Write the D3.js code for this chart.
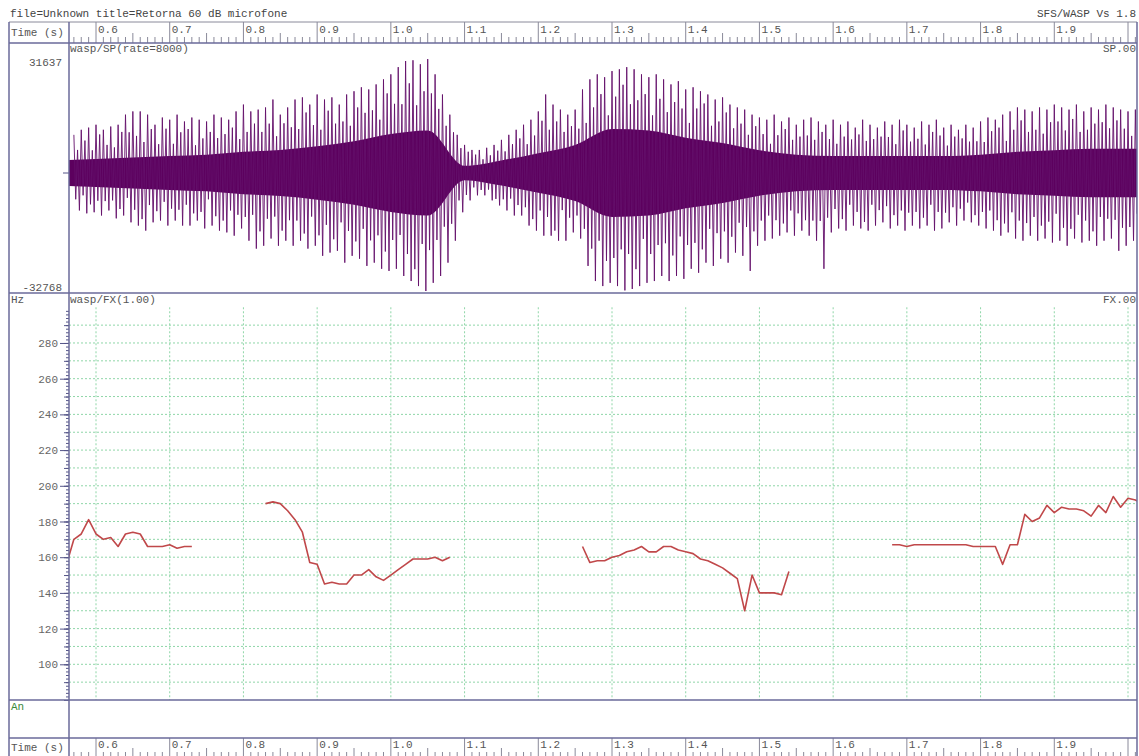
<!DOCTYPE html>
<html>
<head>
<meta charset="utf-8">
<script src="https://cdn.jsdelivr.net/npm/d3@7"></script>
<style>
body { margin: 0; background: #fff; }
svg { display: block; }
text { font-family: "Liberation Mono", "Courier New", monospace; font-size: 11px; fill: #555; }
</style>
</head>
<body>
<svg id="SVG_CONTAINER" width="1139" height="756"></svg>
<script>
// header texts
const headerLeft = "file=Unknown title=Retorna 60 dB microfone";
const headerRight = "SFS/WASP Vs 1.8";
const spTitle = "wasp/SP(rate=8000)", spTag = "SP.00";
const fxTitle = "wasp/FX(1.00)", fxTag = "FX.00";
const spLabels = [31637, -32768];
const fxLabels = [100, 120, 140, 160, 180, 200, 220, 240, 260, 280];

// waveform peaks, one set per 10 ms frame from 0.57 s
const spStart = 0.57, spStep = 0.01;
const spMax = [
  10600,12000,12600,13400,12000,12900,13400,16200,17100,17100,
  16200,13400,15400,14800,16200,14300,15400,14800,14300,16200,
  15400,14800,17100,19000,17100,17600,18200,20400,16200,18200,
  20400,21000,19000,21800,20400,21000,19000,21800,22700,23800,
  23200,24600,26000,27400,29400,31100,31300,30200,31637,27400,
  21800,16200,10600,7800,6400,6400,7000,7800,9200,10600,
  12000,13400,14800,17100,21800,19000,17600,16200,17600,23200,
  26000,27400,26600,28300,28800,29400,28800,27400,26600,27400,
  26000,24600,25500,23200,23800,22700,21800,20400,21000,19000,
  18200,17600,16200,15400,14800,16200,14300,15400,13400,14800,
  15400,14300,13400,14800,13400,14300,12600,14800,13400,12600,
  14300,13400,14800,13400,12600,14300,13400,14800,12600,13400,
  12000,13400,12600,14300,15400,14800,16200,17100,18200,17600,
  17100,18200,17600,19000,18200,17600,19000,17100,18200,17600,
  19000,18200,17600,17100,17600
];
// secondary (smaller) positive peak inside each frame
const spMax2 = [
  6400,9000,6300,10700,7800,7100,11400,11300,10300,8600,
  12200,8000,12300,8100,11300,12200,7700,9600,11400,9700,
  10800,12600,9400,11400,13700,11400,13700,10200,13800,12700,
  12200,16800,13300,12000,17300,13700,14300,13100,18200,16700,
  17400,14800,22100,19200,19100,24900,18800,22700,22100,17800,
  13100,11300,6900,5900,5100,3800,4900,6200,6000,8000,
  9600,8000,10400,14500,12000,14300,11400,13000,12300,13900,
  18200,21900,16000,21200,24500,19100,20200,21900,16000,20600,
  16900,19700,17900,13900,17900,19300,13100,14300,16800,12400,
  13700,10600,13000,10800,8100,10500,12200,9200,10100,10400,
  9200,11400,9400,8100,10100,9300,10700,8900,9400,10100,
  10000,8000,11800,8700,9500,7900,11400,10400,7600,10100,
  9600,8700,8800,8600,11600,12600,8900,12000,14600,11400,
  12000,10900,14100,14300,11800,15000,11400,12000,13700,14100,
  12400,14600,12300,10300,13200
];
const spMin = [
  -10400,-11200,-10900,-11800,-10400,-12600,-11800,-13700,-14600,-16000,
  -13700,-13200,-14600,-13200,-14600,-14600,-13200,-15400,-14600,-16000,
  -16500,-17400,-15400,-18800,-21000,-20200,-18200,-20200,-18800,-20200,
  -18800,-21000,-20200,-23000,-22100,-21600,-24900,-23000,-23800,-25800,
  -24900,-26600,-27200,-26600,-28600,-30000,-31400,-32768,-30500,-28600,
  -24900,-18800,-10900,-7600,-6200,-6200,-7600,-9000,-10400,-11800,
  -11800,-14600,-16000,-17400,-17400,-18800,-18800,-16500,-18200,-25800,
  -30000,-31400,-30500,-31400,-32600,-32200,-31400,-30500,-30000,-28600,
  -30000,-28600,-29400,-26600,-27700,-24900,-25800,-23800,-24900,-22100,
  -23000,-27200,-20200,-18800,-18200,-17400,-16500,-17400,-16000,-17400,
  -18800,-26600,-16500,-15400,-16000,-14600,-15400,-16000,-14600,-13700,
  -15400,-14600,-16000,-14600,-15400,-14600,-16000,-15400,-13700,-14600,
  -13200,-13700,-14600,-15400,-16000,-17400,-16500,-18200,-18800,-17400,
  -18800,-18200,-19300,-18800,-20200,-18200,-19300,-18800,-20200,-18800,
  -18200,-21600,-20200,-18800,-17400
];
// secondary negative peak inside each frame
const spMin2 = [
  -7300,-6200,-8700,-7700,-7800,-7600,-10000,-6900,-10200,-12800,
  -8900,-10600,-8000,-9900,-10200,-8800,-11200,-10800,-7300,-12000,
  -13200,-10400,-11600,-12200,-11600,-16200,-12700,-12100,-16000,-13100,
  -13200,-16800,-12100,-17300,-14400,-18400,-13700,-16100,-19000,-15500,
  -18700,-17300,-21800,-18600,-17200,-22500,-26700,-19700,-21400,-18600,
  -14900,-14100,-7600,-6100,-4000,-4700,-4600,-7200,-7300,-7100,
  -8900,-9500,-12800,-10400,-12200,-16000,-10300,-12400,-11800,-15500,
  -21000,-18800,-24400,-23600,-21200,-22500,-26700,-18300,-22500,-20000,
  -19500,-22900,-17600,-20000,-19400,-21200,-15500,-16700,-16200,-17700,
  -13800,-15000,-16200,-13200,-11800,-13100,-14000,-10400,-11200,-13100,
  -13200,-13300,-12400,-10000,-12800,-8800,-10800,-13600,-8800,-10300,
  -9200,-11700,-10400,-11000,-10800,-12400,-8800,-10800,-11000,-9500,
  -9900,-8200,-11700,-10800,-10400,-13100,-14000,-10900,-13200,-13900,
  -12200,-14600,-13500,-11300,-15200,-15500,-11600,-13200,-16200,-12200,
  -12700,-13000,-15200,-15000,-11300
];
// dense core of the waveform, every 50 ms from 0.55 s
const coreStart = 0.55, coreStep = 0.05;
const coreAmp = [3500,3900,4300,4700,5100,5900,6400,7400,8800,10800,11800,2000,3500,5500,7800,
  12200,11800,9800,8300,6300,5100,4700,4700,4700,4700,5100,5900,6300,6700,6700,6700];

// pitch track (Hz), 10 ms frames, four voiced segments
const fxStep = 0.01;
const fxSegStarts = [0.56, 0.83, 1.26, 1.68];
const fxSeg1 = [156,170,173,181,173,170,171,166,173,174,173,166,166,166,167,165,166,166];
const fxSeg2 = [190,191,190,186,181,174,157,156,145,146,145,145,150,150,153,149,147,150,153,156,159,159,159,160,158,160];
const fxSeg3 = [166,157,158,158,160,161,163,164,166,163,163,166,166,164,163,162,159,158,156,154,151,148,130,150,140,140,140,139,152];
const fxSeg4 = [167,167,166,167,167,167,167,167,167,167,167,166,166,166,166,156,167,167,184,180,182,189,185,188,187,187,186,183,189,185,194,188,193,192,190];

const width = 1139, height = 756;
const LEFT = 9, AXIS = 69, RIGHT = 1137;
const ROW = { timeTop: [22, 43], sp: [43, 293], fx: [293, 700], an: [700, 738], timeBot: [738, 760] };
const FRAME = "#6a6a9a", GRID = "#8fd6a8";

var svg = d3.select("#SVG_CONTAINER");

var x = d3.scaleLinear().domain([0.6, 2.0]).range([96, 1128]);
var ySP = d3.scaleLinear().domain([-32768, 32768]).range([291, 55]);
var yFX = d3.scaleLinear().domain([80, 308]).range([700, 293]);

// clip paths
var defs = svg.append("defs");
defs.append("clipPath").attr("id", "clipSP").append("rect")
  .attr("x", AXIS).attr("y", ROW.sp[0]).attr("width", RIGHT - AXIS).attr("height", ROW.sp[1] - ROW.sp[0]);
defs.append("clipPath").attr("id", "clipFX").append("rect")
  .attr("x", AXIS).attr("y", ROW.fx[0]).attr("width", RIGHT - AXIS).attr("height", ROW.fx[1] - ROW.fx[0]);

// header
svg.append("text").attr("x", 10).attr("y", 17).text(headerLeft).style("fill", "#444");
svg.append("text").attr("x", 1136).attr("y", 17).attr("text-anchor", "end").text(headerRight).style("fill", "#444");

// time axes
function drawTimeAxis(y0, y1, labelY, minorTop, midTop) {
  var g = svg.append("g");
  g.append("text").attr("x", 11).attr("y", labelY + 3).text("Time (s)");
  var ticks = d3.range(57, 202).map(k => k / 100);
  g.selectAll("line.tick").data(ticks).enter().append("line")
    .attr("x1", d => x(d)).attr("x2", d => x(d))
    .attr("y1", d => {
      var k = Math.round(d * 100);
      if (k % 10 === 0) return y0;
      if (k % 5 === 0) return midTop;
      return minorTop;
    })
    .attr("y2", y1)
    .attr("stroke", "#8a8a9a").attr("stroke-width", 1);
  var majors = ticks.filter(d => Math.round(d * 100) % 10 === 0 && x(d) + 22 < RIGHT);
  g.selectAll("text.lab").data(majors).enter().append("text")
    .attr("x", d => x(d) + 2).attr("y", labelY)
    .text(d => d3.format(".1f")(d));
}
drawTimeAxis(ROW.timeTop[0], ROW.timeTop[1], 33, 37, 33);
drawTimeAxis(ROW.timeBot[0], ROW.timeBot[1], 748, 752, 748);

// ---- speech waveform panel
var spG = svg.append("g").attr("clip-path", "url(#clipSP)");
var core = coreAmp.map((a, i) => ({ t: coreStart + i * coreStep, a: a }));
spG.append("path")
  .datum(core)
  .attr("d", d3.area().x(d => x(d.t)).y0(d => ySP(-d.a)).y1(d => ySP(d.a)).curve(d3.curveMonotoneX))
  .attr("fill", "#5c005e");
var zig = [];
spMax.forEach((v, i) => {
  var t = spStart + i * spStep;
  zig.push([t, v]);
  zig.push([t + 0.0025, spMin2[i]]);
  zig.push([t + 0.005, spMax2[i]]);
  zig.push([t + 0.0075, spMin[i]]);
});
spG.append("path")
  .datum(zig)
  .attr("d", d3.line().x(d => x(d[0])).y(d => ySP(d[1])))
  .attr("fill", "none").attr("stroke", "#64106a").attr("stroke-width", 1).attr("stroke-opacity", 0.9);

svg.append("text").attr("x", 70).attr("y", 52).text(spTitle);
svg.append("text").attr("x", 1136).attr("y", 52).attr("text-anchor", "end").text(spTag);
svg.selectAll("text.spl").data(spLabels).enter().append("text")
  .attr("x", 62).attr("y", d => d > 0 ? 66 : 291).attr("text-anchor", "end").text(d => d);
svg.append("line").attr("x1", 63).attr("x2", AXIS).attr("y1", ySP(0)).attr("y2", ySP(0))
  .attr("stroke", "#555588");

// ---- pitch panel
var fxG = svg.append("g");
fxG.selectAll("line.hgrid").data(d3.range(90, 291, 10)).enter().append("line")
  .attr("x1", AXIS).attr("x2", RIGHT).attr("y1", d => yFX(d)).attr("y2", d => yFX(d))
  .attr("stroke", GRID).attr("stroke-dasharray", "2,2");
fxG.selectAll("line.vgrid").data(d3.range(6, 21).map(k => k / 10)).enter().append("line")
  .attr("x1", d => x(d)).attr("x2", d => x(d)).attr("y1", yFX(300)).attr("y2", ROW.fx[1])
  .attr("stroke", GRID).attr("stroke-dasharray", "2,2");

function tickAxis(values, size, labelled) {
  var ax = d3.axisLeft(yFX).tickValues(values).tickSize(size).tickPadding(2)
    .tickFormat(labelled ? d3.format("d") : "");
  var g = svg.append("g").attr("transform", "translate(" + AXIS + ",0)").call(ax);
  g.select(".domain").remove();
  g.selectAll("line").attr("stroke", "#555588");
  g.selectAll("text").attr("font-family", null).attr("font-size", null).style("fill", "#666");
}
tickAxis(d3.range(80, 299, 2), 3, false);
tickAxis(d3.range(80, 299, 10), 5, false);
tickAxis(fxLabels, 9, true);

var fxLine = d3.line().x(d => x(d[0])).y(d => yFX(d[1]));
var pitchG = svg.append("g").attr("clip-path", "url(#clipFX)");
[fxSeg1, fxSeg2, fxSeg3, fxSeg4].forEach((seg, s) => {
  var pts = seg.map((v, i) => [fxSegStarts[s] + i * fxStep, v]);
  pitchG.append("path").datum(pts).attr("d", fxLine)
    .attr("fill", "none").attr("stroke", "#c0484a").attr("stroke-width", 1.6)
    .attr("stroke-linejoin", "round");
});

svg.append("text").attr("x", 11).attr("y", 303).text("Hz");
svg.append("text").attr("x", 70).attr("y", 303).text(fxTitle);
svg.append("text").attr("x", 1136).attr("y", 303).attr("text-anchor", "end").text(fxTag);

// ---- annotation panel
svg.append("text").attr("x", 11).attr("y", 710).text("An").style("fill", "#3a8a3a");

// ---- frame lines
var frame = svg.append("g").attr("stroke", FRAME).attr("stroke-width", 1.5);
[ROW.timeTop[0], ROW.sp[0], ROW.fx[0], ROW.an[0], ROW.timeBot[0]].forEach((y, i) => {
  frame.append("line").attr("x1", LEFT).attr("x2", RIGHT).attr("y1", y).attr("y2", y)
    .attr("stroke", i === 0 ? "#8a8a9a" : FRAME).attr("stroke-width", i === 0 ? 1 : 1.5);
});
[LEFT, AXIS, RIGHT].forEach(xx => {
  frame.append("line").attr("x1", xx).attr("x2", xx).attr("y1", ROW.timeTop[0]).attr("y2", height);
});
</script>
</body>
</html>
